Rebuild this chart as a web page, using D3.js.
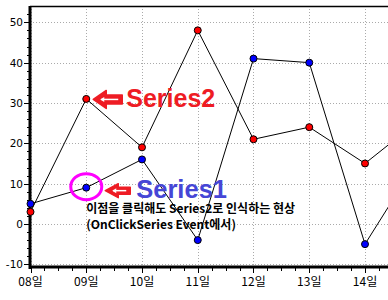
<!DOCTYPE html>
<html><head><meta charset="utf-8">
<script src="https://cdn.jsdelivr.net/npm/d3@7"></script>
<style>body{margin:0;background:#fff}svg{display:block}</style>
</head><body>
<svg id="c" width="388" height="300"></svg>
<script>
const days = [8, 9, 10, 11, 12, 13, 14, 15];
const series1 = [5, 9, 16, -4, 41, 40, -5, 17];
const series2 = [3, 31, 19, 48, 21, 24, 15, 26];
const yTicks = [-10, 0, 10, 20, 30, 40, 50];
const xTickLabels = ["08일", "09일", "10일", "11일", "12일", "13일", "14일"];
const note1 = "이점을 클릭해도 Series2로 인식하는 현상";
const note2 = "(OnClickSeries Event에서)";

(function () {
const svg = d3.select("#c");
const W = 388;
const x = d3.scaleLinear().domain([8, 14]).range([30.5, 365]);
const y = d3.scaleLinear().domain([-10, 50]).range([264.3, 22.3]);
const pTop = 6, pBottom = 267, pLeft = 30;

// grid
const g = svg.append("g");
g.selectAll(".gy").data(yTicks).join("line")
  .attr("x1", pLeft).attr("x2", W).attr("y1", d => Math.round(y(d)) + 0.5).attr("y2", d => Math.round(y(d)) + 0.5)
  .attr("stroke", "#aaa").attr("stroke-dasharray", "1,2");
g.selectAll(".gx").data(days.slice(0, 7)).join("line")
  .attr("x1", d => Math.round(x(d)) + 0.5).attr("x2", d => Math.round(x(d)) + 0.5).attr("y1", pTop).attr("y2", pBottom)
  .attr("stroke", "#aaa").attr("stroke-dasharray", "1,2");

// top border
svg.append("line").attr("x1", pLeft).attr("x2", W).attr("y1", pTop + 0.5).attr("y2", pTop + 0.5).attr("stroke", "#000").attr("stroke-width", 1.5);

// lines
const line = d3.line().x((d, i) => x(days[i])).y(d => y(d));
svg.append("path").attr("d", line(series2)).attr("fill", "none").attr("stroke", "#000").attr("stroke-width", 1);
svg.append("path").attr("d", line(series1)).attr("fill", "none").attr("stroke", "#000").attr("stroke-width", 1);

// axes
const yMinor = d3.range(-10, 54, 2);
svg.selectAll(".ym").data(yMinor).join("line")
  .attr("x1", d => yTicks.includes(d) ? pLeft - 6 : pLeft - 3).attr("x2", pLeft)
  .attr("y1", d => Math.round(y(d)) + 0.5).attr("y2", d => Math.round(y(d)) + 0.5).attr("stroke", "#000");
const xMinor = d3.range(8, 15.5, 0.25);
svg.selectAll(".xm").data(xMinor).join("line")
  .attr("x1", d => Math.round(x(d)) + 0.5).attr("x2", d => Math.round(x(d)) + 0.5)
  .attr("y1", pBottom).attr("y2", d => Number.isInteger(d) ? pBottom + 6 : pBottom + 4).attr("stroke", "#000");
svg.append("line").attr("x1", pLeft).attr("x2", pLeft).attr("y1", pTop).attr("y2", pBottom + 2).attr("stroke", "#000").attr("stroke-width", 3);
svg.append("line").attr("x1", pLeft - 1).attr("x2", W).attr("y1", pBottom).attr("y2", pBottom).attr("stroke", "#000").attr("stroke-width", 3);

svg.selectAll(".yl").data(yTicks).join("text")
  .attr("x", 23).attr("y", d => y(d) + 4).attr("text-anchor", "end")
  .attr("font-family", "DejaVu Sans, Verdana").attr("font-size", 10.5).attr("fill", "#000").text(d => d);
svg.selectAll(".xl").data(xTickLabels).join("text")
  .attr("x", (d, i) => x(days[i])).attr("y", 286).attr("text-anchor", "middle")
  .attr("font-family", "Noto Sans CJK KR").attr("font-size", 12).attr("fill", "#000").text(d => d);

// markers
svg.selectAll(".m2").data(series2).join("circle")
  .attr("cx", (d, i) => x(days[i])).attr("cy", d => y(d)).attr("r", 3.5)
  .attr("fill", "#ff0000").attr("stroke", "#000").attr("stroke-width", 1);
svg.selectAll(".m1").data(series1).join("circle")
  .attr("cx", (d, i) => x(days[i])).attr("cy", d => y(d)).attr("r", 3.5)
  .attr("fill", "#0000ff").attr("stroke", "#000").attr("stroke-width", 1);

// annotations
function arrow(tx, ty, w, h) {
  const a = svg.append("g").attr("transform", `translate(${tx},${ty})`);
  const hw = 13, bh = h * 0.5;
  a.append("path").attr("d", `M0,0 L${hw},${-h / 2} L${hw},${-bh / 2} L${w},${-bh / 2} L${w},${bh / 2} L${hw},${bh / 2} L${hw},${h / 2} Z`)
    .attr("fill", "#ee1c24").attr("stroke", "#ee1c24").attr("stroke-width", 1.5).attr("stroke-linejoin", "round");
  a.append("line").attr("x1", 8).attr("x2", w - 4).attr("y1", 0).attr("y2", 0).attr("stroke", "#fff").attr("stroke-width", 1.5);
  a.append("path").attr("d", `M7,0 L11,-2.5 L11,2.5 Z`).attr("fill", "#fff");
}
arrow(x(9) + 7, y(31) + 0.5, 29, 18);
arrow(x(9) + 19, y(9) + 3, 25, 14);

svg.append("text").attr("x", x(9) + 40).attr("y", y(31) + 8.5)
  .attr("font-family", "Liberation Sans, Arial").attr("font-weight", "bold").attr("font-size", 25)
  .attr("fill", "#ee1c24").text("Series2");
svg.append("text").attr("x", x(9) + 50).attr("y", y(9) + 10)
  .attr("font-family", "Liberation Sans, Arial").attr("font-weight", "bold").attr("font-size", 25.5)
  .attr("fill", "#4646d6").text("Series1");

svg.append("ellipse").attr("cx", x(9)).attr("cy", y(9) - 1).attr("rx", 15.5).attr("ry", 13)
  .attr("fill", "none").attr("stroke", "#ff00ff").attr("stroke-width", 3);

svg.append("text").attr("x", x(9)).attr("y", y(9) + 25.5)
  .attr("font-family", "Noto Sans CJK KR").attr("font-weight", "bold").attr("font-size", 12)
  .attr("fill", "#000").text(note1);
svg.append("text").attr("x", x(9)).attr("y", y(9) + 41.5)
  .attr("font-family", "Noto Sans CJK KR").attr("font-weight", "bold").attr("font-size", 12)
  .attr("fill", "#000").text(note2);
})();
</script>
</body></html>
